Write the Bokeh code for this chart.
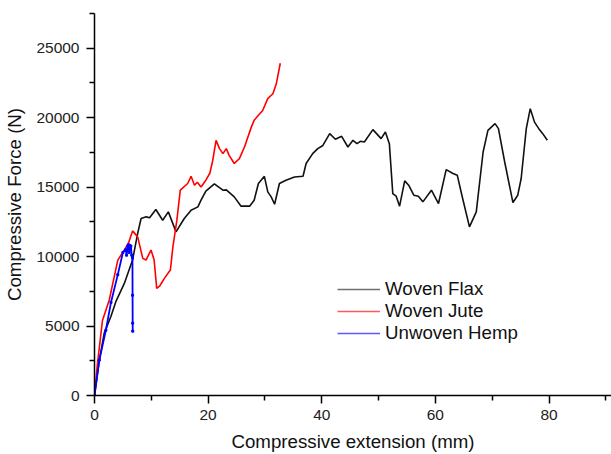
from bokeh.plotting import figure
from bokeh.models import Range1d, FixedTicker, Legend, LegendItem
from bokeh.embed import file_html
from bokeh.resources import INLINE

# Woven Flax
flax_x = [0, 0.8, 1.7, 2.9, 3.8, 5.25, 6.7, 7.6, 8.2, 9.1, 9.7, 10.8, 12.0, 13.0, 14.35,
          15.8, 17.0, 18.2, 18.75, 19.6, 21.1, 22.6, 23.2, 24.6, 25.8, 27.3, 28.1, 28.85,
          29.9, 30.5, 31.1, 31.7, 32.55, 33.7, 35.2, 36.7, 37.25, 38.4, 39.3, 40.2, 41.4,
          42.4, 43.5, 44.6, 45.5, 46.2, 46.8, 47.5, 49.0, 50.45, 51.2, 51.9, 52.5, 53.1,
          53.7, 54.6, 55.3, 56.2, 57.0, 57.8, 59.3, 60.55, 61.9, 63.1, 63.85, 64.8, 66.0,
          67.2, 68.4, 69.25, 70.5, 71.1, 72.2, 73.65, 74.5, 75.1, 76.0, 76.7, 77.45, 78.2,
          78.9, 79.7]
flax_y = [0, 2400, 4470, 5700, 6800, 8070, 9750, 11670, 12740, 12860, 12800, 13390, 12620,
          13220, 11780, 12740, 13340, 13580, 14060, 14720, 15240, 14780, 14800, 14300, 13630,
          13630, 14060, 15260, 15780, 14660, 14300, 13770, 15260, 15500, 15730, 15780, 16700,
          17410, 17770, 18000, 18850, 18450, 18660, 17890, 18370, 18130, 18300, 18250, 19140,
          18490, 18970, 18130, 14540, 14350, 13630, 15450, 15140, 14420, 14350, 13940, 14780,
          13820, 16260, 15980, 15860, 14180, 12140, 13220, 17530, 19090, 19570, 19210, 16810,
          13890, 14420, 15620, 19210, 20650, 19680, 19210, 18850, 18370]

# Woven Jute
jute_x = [0, 0.5, 1.4, 2.6, 4.1, 5.25, 6.0, 6.7, 7.6, 8.5, 9.07, 9.95, 10.5, 10.95, 11.5,
          12.3, 13.35, 13.8, 14.5, 15.1, 16.4, 17.0, 17.6, 18.1, 18.75, 19.6, 20.3, 20.8,
          21.4, 22.0, 22.6, 23.2, 23.7, 24.6, 25.5, 26.4, 27.6, 28.1, 28.85, 29.6, 30.5,
          31.4, 32.0, 32.7]
jute_y = [0, 2200, 5400, 6875, 9750, 10470, 11000, 11850, 11420, 9870, 9750, 10470, 9750,
          7715, 7900, 8430, 9030, 10700, 12620, 14780, 15260, 15780, 15140, 15350, 15010,
          15500, 16000, 16900, 18370, 17770, 17410, 17770, 17290, 16700, 17050, 17890, 19320,
          19810, 20170, 20520, 21370, 21720, 22440, 23920]

# Unwoven Hemp
hemp_x = [0, 0.85, 2.0, 2.9, 4.1, 5.0, 5.5, 5.65, 5.85, 6.0, 6.1, 6.25, 6.4, 6.55, 6.68,
          6.7, 6.72, 6.73]
hemp_y = [0, 2550, 4700, 6700, 8700, 10300, 10500, 10100, 10750, 10850, 10300, 10800,
          10750, 10100, 9900, 7220, 5210, 4630]

x_ticks = [0, 20, 40, 60, 80]
x_minor = [10, 30, 50, 70, 90]
y_ticks = [0, 5000, 10000, 15000, 20000, 25000]
y_minor = [2500, 7500, 12500, 17500, 22500, 27500]

FONT = "Liberation Sans"

p = figure(width=611, height=454, output_backend="svg", toolbar_location=None,
           x_range=Range1d(0, 91), y_range=Range1d(0, 27500),
           min_border_left=94, min_border_right=0, min_border_top=13, min_border_bottom=58)
p.outline_line_color = None
p.xgrid.visible = False
p.ygrid.visible = False
p.background_fill_color = "white"

for ax, ticks, minor in ((p.xaxis[0], x_ticks, x_minor), (p.yaxis[0], y_ticks, y_minor)):
    ax.ticker = FixedTicker(ticks=ticks, minor_ticks=minor)
    ax.axis_line_color = "black"
    ax.axis_line_width = 1.5
    ax.major_tick_line_color = "black"
    ax.major_tick_line_width = 1.5
    ax.minor_tick_line_color = "black"
    ax.minor_tick_line_width = 1.5
    ax.major_tick_in = 0
    ax.major_tick_out = 8
    ax.minor_tick_in = 0
    ax.minor_tick_out = 5
    ax.major_label_text_font = FONT
    ax.major_label_text_font_size = "15.5px"
    ax.major_label_text_color = "#222222"
    ax.axis_label_text_font = FONT
    ax.axis_label_text_font_size = "18.7px"
    ax.axis_label_text_font_style = "normal"
    ax.axis_label_text_color = "#111111"

p.xaxis.axis_label = "Compressive extension (mm)"
p.yaxis.axis_label = "Compressive Force (N)"
p.xaxis.major_label_standoff = 6
p.yaxis.major_label_standoff = 7
p.xaxis.axis_label_standoff = 8
p.yaxis.axis_label_standoff = 8

p.line(flax_x, flax_y, line_color="#111111", line_width=1.6)
p.line(jute_x, jute_y, line_color="#ff0000", line_width=1.6)
p.line(hemp_x, hemp_y, line_color="#0000ff", line_width=1.8)
p.scatter(hemp_x, hemp_y, marker="square", size=2, color="#0000ff")

# legend keys: hidden copies of the series drawn with the original key's thin, light strokes
k_flax = p.line(flax_x, flax_y, line_color="#707070", line_width=1.3, visible=False)
k_jute = p.line(jute_x, jute_y, line_color="#ff5a5a", line_width=1.3, visible=False)
k_hemp = p.line(hemp_x, hemp_y, line_color="#5a5aff", line_width=1.3, visible=False)

legend = Legend(items=[LegendItem(label="Woven Flax", renderers=[k_flax]),
                       LegendItem(label="Woven Jute", renderers=[k_jute]),
                       LegendItem(label="Unwoven Hemp", renderers=[k_hemp])],
                location=(243, 51), orientation="vertical",
                glyph_width=43, glyph_height=22, label_height=22, spacing=0,
                label_standoff=5, padding=0, margin=0,
                border_line_color=None, background_fill_alpha=0,
                inactive_fill_alpha=0,
                label_text_font=FONT, label_text_font_size="18.7px",
                label_text_color="#111111")
p.add_layout(legend, "center")

open("out.html", "w").write(file_html(p, INLINE))
